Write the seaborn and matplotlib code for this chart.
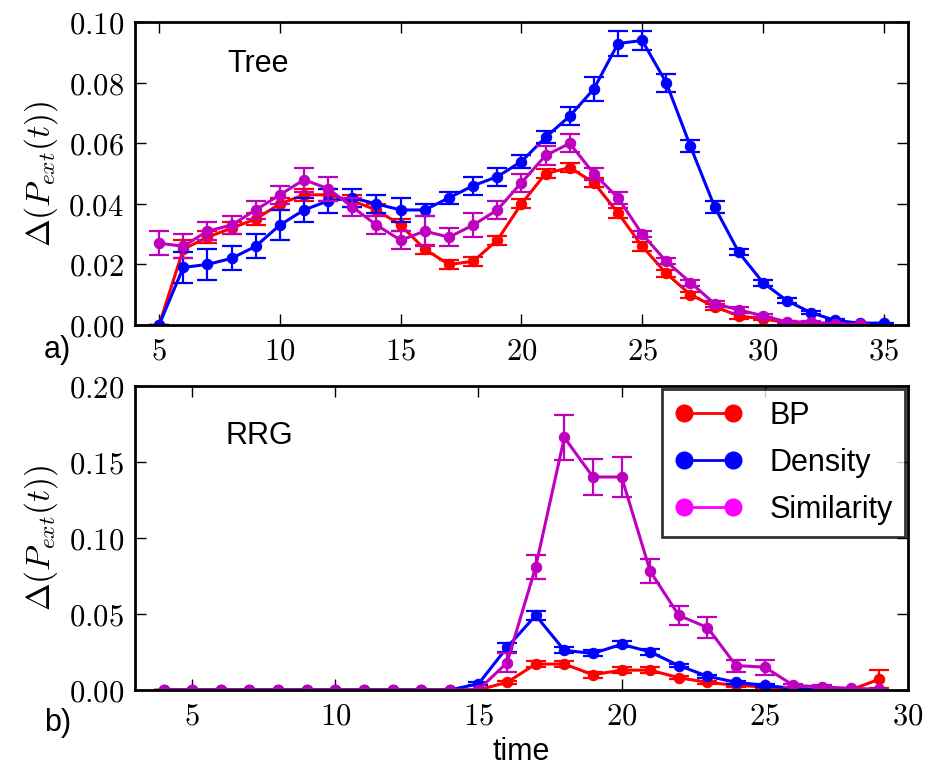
import numpy as np
import seaborn as sns
import matplotlib
import matplotlib.pyplot as plt
from matplotlib.lines import Line2D
from matplotlib.ticker import FuncFormatter

# Tree panel
t_bp_tree = list(range(5, 33))
bp_tree = [0.0, 0.025, 0.029, 0.032, 0.035, 0.040, 0.043, 0.043, 0.041, 0.038,
           0.033, 0.025, 0.020, 0.021, 0.028, 0.040, 0.050, 0.052, 0.047, 0.037,
           0.026, 0.017, 0.010, 0.006, 0.003, 0.002, 0.0008, 0.0004]
bp_tree_err = [0.0, 0.003, 0.002, 0.002, 0.002, 0.002, 0.002, 0.002, 0.002, 0.002,
               0.002, 0.0015, 0.0015, 0.0015, 0.0015, 0.0015, 0.0015, 0.0015, 0.0015, 0.0015,
               0.0015, 0.001, 0.001, 0.001, 0.001, 0.0005, 0.0005, 0.0003]

t_dens_tree = list(range(5, 36))
dens_tree = [0.0, 0.019, 0.020, 0.022, 0.026, 0.033, 0.038, 0.041, 0.042, 0.040,
             0.038, 0.038, 0.042, 0.046, 0.049, 0.054, 0.062, 0.069, 0.078, 0.093,
             0.094, 0.080, 0.059, 0.039, 0.024, 0.014, 0.008, 0.004, 0.0015, 0.0006, 0.0006]
dens_tree_err = [0.0, 0.005, 0.005, 0.004, 0.004, 0.005, 0.004, 0.004, 0.003, 0.003,
                 0.004, 0.002, 0.002, 0.003, 0.003, 0.002, 0.002, 0.003, 0.004, 0.004,
                 0.003, 0.003, 0.002, 0.002, 0.001, 0.001, 0.0008, 0.0005, 0.0003, 0.0002, 0.0002]

t_sim_tree = list(range(5, 35))
sim_tree = [0.027, 0.026, 0.031, 0.033, 0.038, 0.043, 0.048, 0.045, 0.039, 0.033,
            0.028, 0.031, 0.029, 0.033, 0.038, 0.047, 0.056, 0.060, 0.050, 0.042,
            0.030, 0.021, 0.014, 0.007, 0.005, 0.003, 0.001, 0.001, 0.0003, 0.0002]
sim_tree_err = [0.004, 0.004, 0.003, 0.003, 0.003, 0.003, 0.004, 0.004, 0.003, 0.003,
                0.003, 0.005, 0.003, 0.004, 0.003, 0.003, 0.003, 0.003, 0.002, 0.002,
                0.001, 0.001, 0.001, 0.001, 0.001, 0.0005, 0.0003, 0.0003, 0.0002, 0.0001]

# RRG panel
t_rrg = list(range(4, 30))
bp_rrg = [0]*11 + [0.0, 0.005, 0.017, 0.017, 0.010, 0.013, 0.013, 0.008, 0.005,
                   0.003, 0.002, 0.001, 0.0, 0.0, 0.007]
bp_rrg_err = [0]*11 + [0.0, 0.001, 0.002, 0.002, 0.002, 0.002, 0.002, 0.001, 0.001,
                       0.001, 0.001, 0.0005, 0.0, 0.0, 0.006]
dens_rrg = [0]*11 + [0.004, 0.028, 0.049, 0.026, 0.024, 0.030, 0.025, 0.016, 0.009,
                     0.005, 0.003, 0.001, 0.0, 0.0, 0.0]
dens_rrg_err = [0]*11 + [0.001, 0.003, 0.003, 0.002, 0.002, 0.002, 0.002, 0.001, 0.001,
                         0.001, 0.001, 0.0005, 0.0, 0.0, 0.0]
sim_rrg = [0]*11 + [0.0, 0.018, 0.081, 0.166, 0.140, 0.140, 0.078, 0.049, 0.041,
                    0.016, 0.015, 0.003, 0.002, 0.001, 0.0005]
sim_rrg_err = [0]*11 + [0.0, 0.006, 0.008, 0.015, 0.012, 0.013, 0.008, 0.006, 0.007,
                        0.004, 0.005, 0.001, 0.001, 0.0005, 0.0003]

labels = ['BP', 'Density', 'Similarity']
colors = ['#ff0000', '#0000ff', '#bf00bf']
legend_colors = ['#ff0000', '#0000ff', '#ff00ff']

sns.set_style("ticks")
plt.rcParams['font.family'] = ['Liberation Sans', 'DejaVu Sans']
plt.rcParams['mathtext.fontset'] = 'cm'
plt.rcParams['axes.linewidth'] = 2.0
plt.rcParams['axes.edgecolor'] = 'black'
plt.rcParams['axes.labelcolor'] = 'black'
plt.rcParams['text.color'] = 'black'
plt.rcParams['xtick.color'] = 'black'
plt.rcParams['ytick.color'] = 'black'

fig = plt.figure(figsize=(9.34, 7.70), dpi=100)
ax1 = fig.add_axes([0.1445, 0.578, 0.8275, 0.393])
ax2 = fig.add_axes([0.1445, 0.104, 0.8275, 0.395])


def draw(ax, series):
    for (x, y, e), c in zip(series, colors):
        sns.lineplot(x=x, y=y, ax=ax, color=c, marker='o', markersize=7.5,
                     markeredgecolor=c, linewidth=2.2, estimator=None)
        ax.errorbar(x, y, yerr=e, fmt='none', ecolor=c, elinewidth=1.6,
                    capsize=7, capthick=1.6)


draw(ax1, [(t_bp_tree, bp_tree, bp_tree_err),
           (t_dens_tree, dens_tree, dens_tree_err),
           (t_sim_tree, sim_tree, sim_tree_err)])
draw(ax2, [(t_rrg, bp_rrg, bp_rrg_err),
           (t_rrg, dens_rrg, dens_rrg_err),
           (t_rrg, sim_rrg, sim_rrg_err)])

ax1.set_xlim(4, 36)
ax1.set_ylim(0, 0.10)
ax1.set_xticks([5, 10, 15, 20, 25, 30, 35])
ax1.set_yticks([0.0, 0.02, 0.04, 0.06, 0.08, 0.10])
ax1.yaxis.set_major_formatter(FuncFormatter(lambda v, p: r'$%.2f$' % v))
ax1.xaxis.set_major_formatter(FuncFormatter(lambda v, p: r'$%d$' % v))

ax2.set_xlim(3, 30)
ax2.set_ylim(0, 0.20)
ax2.set_xticks([5, 10, 15, 20, 25, 30])
ax2.set_yticks([0.0, 0.05, 0.10, 0.15, 0.20])
ax2.yaxis.set_major_formatter(FuncFormatter(lambda v, p: r'$%.2f$' % v))
ax2.xaxis.set_major_formatter(FuncFormatter(lambda v, p: r'$%d$' % v))

for ax in (ax1, ax2):
    for s in ax.spines.values():
        s.set_visible(True)
        s.set_linewidth(2.0)
        s.set_edgecolor('black')
    ax.tick_params(direction='in', top=True, right=True, length=8, width=1,
                   labelsize=22, pad=8, colors='black')
    ax.set_ylabel(r'$\Delta(P_{ext}(t))$', fontsize=24, labelpad=6)

ax2.set_xlabel('time', fontsize=22, labelpad=4)

ax1.text(0.12, 0.837, 'Tree', transform=ax1.transAxes, fontsize=22)
ax2.text(0.117, 0.81, 'RRG', transform=ax2.transAxes, fontsize=22)
fig.text(0.047, 0.535, 'a)', fontsize=22)
fig.text(0.047, 0.05, 'b)', fontsize=22)

handles = [Line2D([0], [0], color=c, marker='o', markersize=12, linewidth=2,
                  markeredgecolor=c) for c in legend_colors]
leg = ax2.legend(handles, labels, loc='upper right', fontsize=22, numpoints=2,
                 frameon=True, fancybox=False, borderaxespad=0.1,
                 handlelength=2.2, handletextpad=0.9, labelspacing=0.55)
leg.get_frame().set_edgecolor('black')
leg.get_frame().set_linewidth(2)

fig.savefig('out.png', dpi=100)
